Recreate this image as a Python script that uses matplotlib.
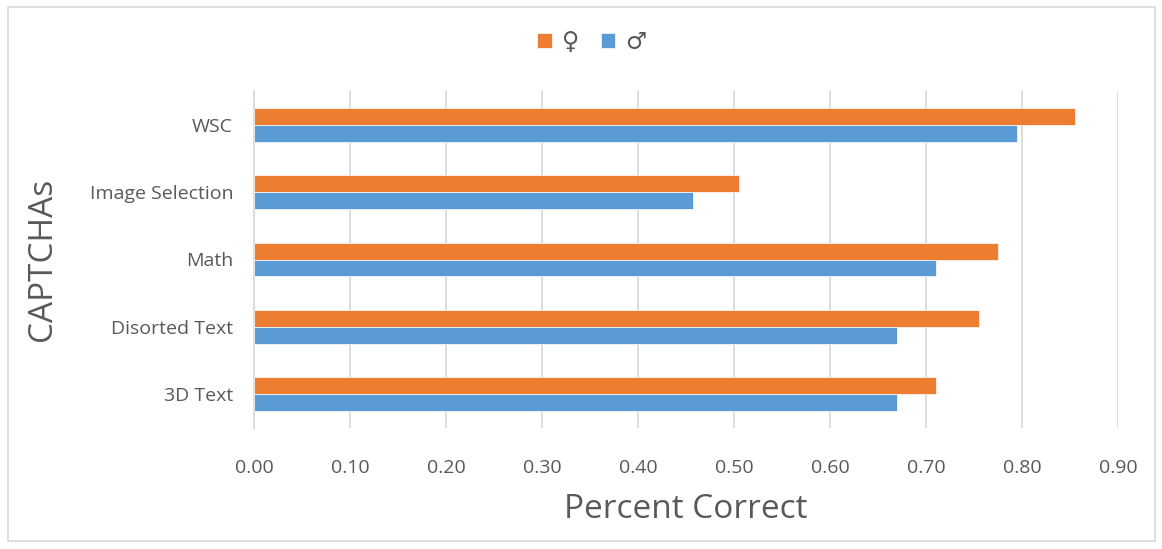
import matplotlib.pyplot as plt
import numpy as np
from matplotlib.patches import Rectangle

# categories, bottom to top
captchas = ['3D Text', 'Disorted Text', 'Math', 'Image Selection', 'WSC']
female = [0.71, 0.755, 0.775, 0.505, 0.855]
male = [0.67, 0.67, 0.71, 0.457, 0.795]
x_ticks = [0.0, 0.1, 0.2, 0.3, 0.4, 0.5, 0.6, 0.7, 0.8, 0.9]

ORANGE = '#ED7D31'
BLUE = '#5B9BD5'
GREY_TXT = '#595959'
GRID = '#D9D9D9'

plt.rcParams['font.family'] = ['Open Sans', 'DejaVu Sans']

fig = plt.figure(figsize=(11.62, 5.49), dpi=100)
ax = fig.add_axes([254 / 1162, 1 - 428 / 549, 864 / 1162, 337 / 549])

y = np.arange(len(captchas))
h = 0.25
ax.barh(y + h / 2, female, height=h, color=ORANGE, edgecolor='white', linewidth=0.5, label='\u2640', zorder=3)
ax.barh(y - h / 2, male, height=h, color=BLUE, edgecolor='white', linewidth=0.5, label='\u2642', zorder=3)

ax.set_xlim(0, 0.9)
ax.set_ylim(-0.5, len(captchas) - 0.5)
ax.set_xticks(x_ticks)
ax.set_xticklabels(['%.2f' % v for v in x_ticks])
ax.set_yticks(y)
ax.set_yticklabels(captchas)
ax.tick_params(axis='both', length=0, labelsize=14, colors=GREY_TXT)
ax.tick_params(axis='x', pad=22)
ax.tick_params(axis='y', pad=15)

ax.grid(axis='x', color=GRID, linewidth=1.3, zorder=0)
for s in ['top', 'right', 'bottom']:
    ax.spines[s].set_visible(False)
ax.spines['left'].set_color(GRID)
ax.spines['left'].set_linewidth(1.3)

ax.set_xlabel('Percent Correct', fontsize=24, color=GREY_TXT, labelpad=12)
ax.set_ylabel('CAPTCHAs', fontsize=24, color=GREY_TXT, labelpad=22)

fig.legend(loc='center', bbox_to_anchor=(592 / 1162, 1 - 42 / 549), ncol=2, frameon=False,
           handlelength=0.6, handleheight=0.6, handletextpad=0.45,
           columnspacing=0.9, labelcolor=GREY_TXT, prop={'family': 'DejaVu Sans', 'size': 17})

# outer chart border
fig.patches.append(Rectangle((8 / 1162, 1 - 541 / 549), 1147 / 1162, 534 / 549,
                             transform=fig.transFigure, fill=False, edgecolor=GRID, linewidth=1.2))

fig.savefig('out.png', dpi=100)
